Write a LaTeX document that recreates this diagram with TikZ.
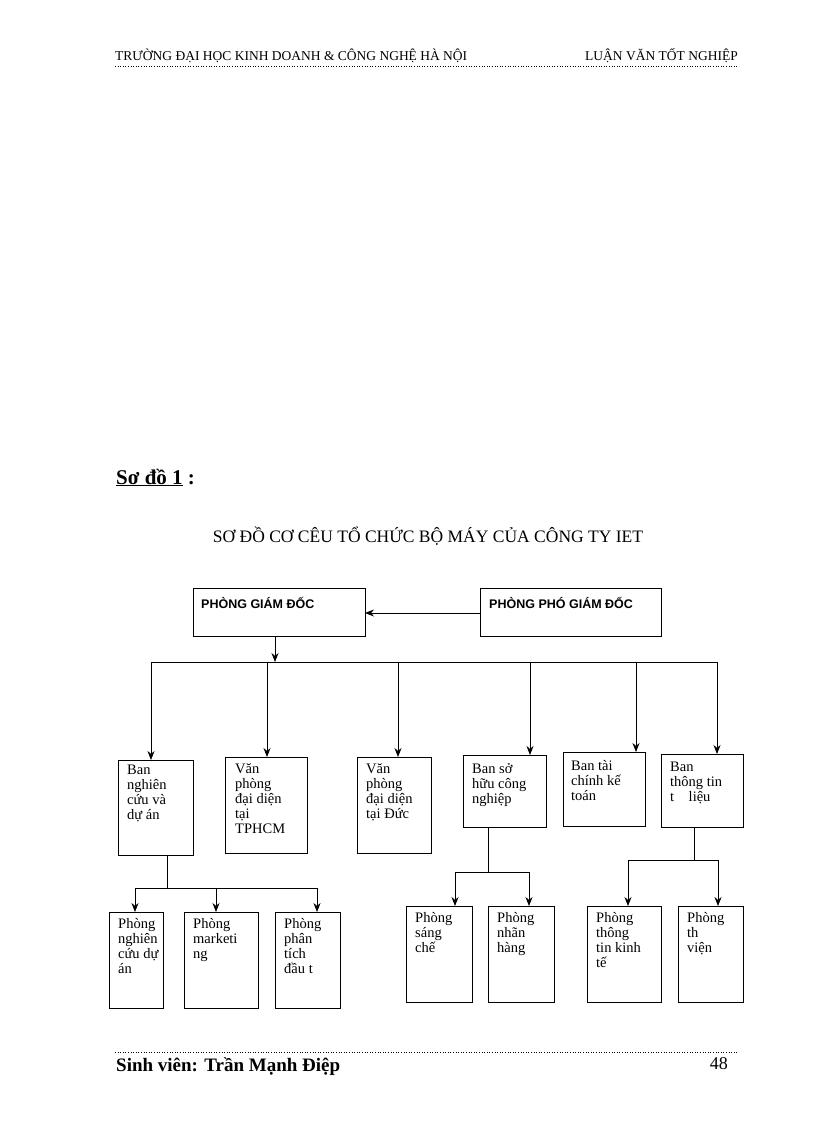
\documentclass[tikz,border=0pt]{standalone}
\usepackage{fontspec}
\setmainfont{Liberation Serif}
\newfontfamily\arialf{Liberation Sans}
\usetikzlibrary{arrows.meta}
\begin{document}
\begin{tikzpicture}[x=1pt,y=-1pt,
  bx/.style={draw,line width=0.8pt},
  lbl/.style={anchor=north west,align=left,font=\fontsize{14.5}{15}\selectfont,inner sep=0pt},
  ln/.style={line width=0.8pt},
  ar/.style={line width=0.8pt,-{Stealth[length=9pt,width=7pt]}}]
\useasboundingbox (0,0) rectangle (816,1123);
% header/footer
\node[anchor=base west,font=\fontsize{13.5}{14}\selectfont,inner sep=0pt] (h1) at (115,61) {TRƯỜNG ĐẠI HỌC KINH DOANH \& CÔNG NGHỆ HÀ NỘI};
\node[anchor=base east,font=\fontsize{13.5}{14}\selectfont,inner sep=0pt] (h2) at (738,61) {LUẬN VĂN TỐT NGHIỆP};
\draw[dotted,line width=0.6pt] (115,66) -- (738,66);
\draw[dotted,line width=0.6pt] (115,1052) -- (738,1052);
\node[anchor=base west,font=\bfseries\fontsize{19}{21}\selectfont,inner sep=0pt] (f1) at (116,1071) {Sinh viên: Trần Mạnh Điệp};
\node[anchor=base east,font=\fontsize{18}{20}\selectfont,inner sep=0pt] (f2) at (728,1069) {48};
\node[anchor=base west,font=\bfseries\fontsize{21}{23}\selectfont,inner sep=0pt] (s1) at (116,484) {\underline{Sơ đồ 1} :};
\node[font=\fontsize{17.5}{19}\selectfont,inner sep=0pt] (t) at (428,536) {SƠ ĐỒ CƠ CÊU TỔ CHỨC BỘ MÁY CỦA CÔNG TY IET};
% top boxes
\draw[bx] (193,588) rectangle (365,636);
\node[anchor=north west,font=\arialf\bfseries\fontsize{12.5}{14}\selectfont,inner sep=0pt] at (201,597) {PHÒNG GIÁM ĐỐC};
\draw[bx] (480,588) rectangle (661,636);
\node[anchor=north west,font=\arialf\bfseries\fontsize{12.5}{14}\selectfont,inner sep=0pt] at (489,597) {PHÒNG PHÓ GIÁM ĐỐC};
\coordinate (pgdR) at (365,613); \coordinate (ppgdL) at (480,613);
\draw[ar] (ppgdL) -- (pgdR);
\coordinate (pgdB) at (275,636); \coordinate (bus) at (275,662);
\draw[ar] (pgdB) -- (bus);
\draw[ln] (151,662) -- (717,662);
% second level
\draw[bx] (118,760) rectangle (193,855);
\node[lbl] at (127,765) {Ban\\nghiên\\cứu và\\dự án};
\draw[bx] (225,757) rectangle (307,853);
\node[lbl] at (235,763) {Văn\\phòng\\đại diện\\tại\\TPHCM};
\draw[bx] (357,757) rectangle (431,853);
\node[lbl] at (366,763) {Văn\\phòng\\đại diện\\tại Đức};
\draw[bx] (463,755) rectangle (546,827);
\node[lbl] at (472,763) {Ban sở\\hữu công\\nghiệp};
\draw[bx] (563,752) rectangle (645,826);
\node[lbl] at (571,760) {Ban tài\\chính kế\\toán};
\draw[bx] (661,754) rectangle (743,827);
\node[lbl] at (670,762) {Ban\\thông tin\\t\quad liệu};
\foreach \x/\y in {151/760,267/757,398/757,530/755,636/752,717/754}
  \draw[ar] (\x,662) -- (\x,\y);
% subtree 1
\draw[ln] (167,855) -- (167,888); \draw[ln] (135,888) -- (317,888);
\foreach \x in {135,216,317} \draw[ar] (\x,888) -- (\x,912);
\draw[bx] (109,912) rectangle (163,1008);
\node[lbl] at (118,918) {Phòng\\nghiên\\cứu dự\\án};
\draw[bx] (184,912) rectangle (258,1008);
\node[lbl] at (193,918) {Phòng\\marketi\\ng};
\draw[bx] (275,912) rectangle (340,1008);
\node[lbl] at (284,918) {Phòng\\phân\\tích\\đầu t};
% subtree 2
\draw[ln] (488,827) -- (488,872); \draw[ln] (455,872) -- (529,872);
\foreach \x in {455,529} \draw[ar] (\x,872) -- (\x,906);
\draw[bx] (406,906) rectangle (472,1002);
\node[lbl] at (415,912) {Phòng\\sáng\\chế};
\draw[bx] (488,906) rectangle (554,1002);
\node[lbl] at (497,912) {Phòng\\nhãn\\hàng};
% subtree 3
\draw[ln] (694,827) -- (694,860); \draw[ln] (628,860) -- (718,860);
\foreach \x in {628,718} \draw[ar] (\x,860) -- (\x,906);
\draw[bx] (587,906) rectangle (661,1002);
\node[lbl] at (596,912) {Phòng\\thông\\tin kinh\\tế};
\draw[bx] (678,906) rectangle (743,1002);
\node[lbl] at (687,912) {Phòng\\th\\viện};
\end{tikzpicture}
\end{document}
